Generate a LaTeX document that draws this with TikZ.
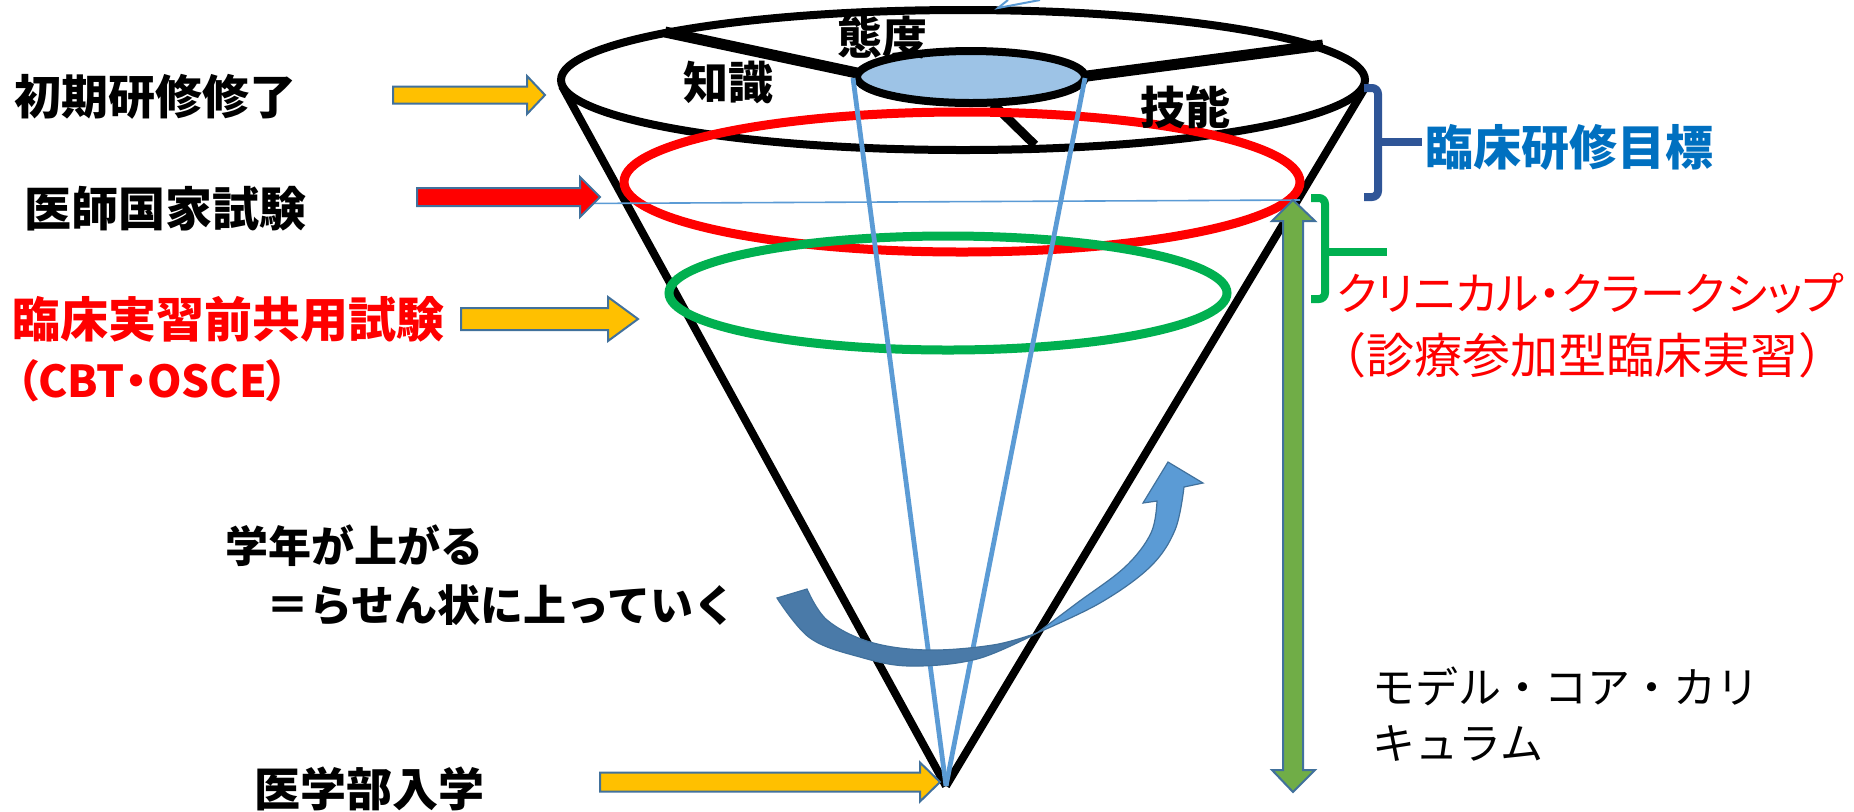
\documentclass[tikz,border=0pt]{standalone}
\usepackage{fontspec}
\setmainfont{Noto Sans CJK JP}
\newfontfamily\jpp[RawFeature=+palt]{Noto Sans CJK JP}
\definecolor{arrowedge}{HTML}{41719C}
\definecolor{ayellow}{HTML}{FFC000}
\definecolor{agreen}{HTML}{70AD47}
\definecolor{rgreen}{HTML}{00B050}
\definecolor{lblue}{HTML}{5B9BD5}
\definecolor{dblue}{HTML}{2F5597}
\definecolor{tblue}{HTML}{0070C0}
\definecolor{iblue}{HTML}{9DC3E6}
\definecolor{cdark}{HTML}{4A7AA8}
\newcommand\barrow[7]{%
  \filldraw[fill=#7, draw=arrowedge, line width=1pt, line join=miter]
    (#1,#4-#5) -- (#2,#4-#5) -- (#2,#4-#6) -- (#3,#4) -- (#2,#4+#6) -- (#2,#4+#5) -- (#1,#4+#5) -- cycle;}
\begin{document}
\begin{tikzpicture}[x=0.5pt,y=-0.5pt,
  lbl/.style={anchor=west, inner sep=0pt, font=\bfseries\fontsize{23.5pt}{28pt}\selectfont},
  redlbl/.style={lbl, text=red},
  conel/.style={line width=4pt, black},
  blueray/.style={line width=2.4pt, lblue},
  bracket/.style={line width=4pt, rounded corners=3pt}]
\useasboundingbox[fill=white] (0,0) rectangle (1854,811);

% cone sides
\coordinate (apex) at (946,786);
\draw[conel] (562,86) -- (apex);
\draw[conel] (1366,86) -- (apex);

% top ellipse and dividers
\draw[line width=4pt] (963,80) ellipse [x radius=402, y radius=70];
\draw[line width=5.5pt] (665,32) -- (857,73);
\draw[line width=5.5pt] (1087,76) -- (1323,45);
\draw[line width=4.5pt] (993,104) -- (1035,145);
\filldraw[fill=iblue, draw=black, line width=4pt] (971,77) ellipse [x radius=114, y radius=26];

% coloured rings
\draw[red, line width=4.5pt] (962,182) ellipse [x radius=338, y radius=70];
\draw[rgreen, line width=4.5pt] (948,293) ellipse [x radius=279, y radius=57];

% blue rays
\draw[blueray] (853,78) -- (apex);
\draw[blueray] (1085,78) -- (apex);

% thin horizontal line
\draw[lblue, line width=0.8pt] (470,204) -- (1300,200);

% small mark at top
\draw[lblue, line width=1pt] (1008,0) -- (998,8) -- (1040,0);

% block arrows
\barrow{393}{527}{545}{95}{8.5}{19}{ayellow}
\barrow{417}{580}{600}{197}{9}{20}{red}
\barrow{461}{608}{638}{319}{11}{22}{ayellow}
\barrow{600}{920}{940}{782}{9.5}{19.5}{ayellow}

% green double arrow
\filldraw[fill=agreen, draw=arrowedge, line width=1pt, line join=miter]
  (1293,200) -- (1315,221) -- (1303,221) -- (1303,770) -- (1315,770) -- (1293,792)
  -- (1272,770) -- (1283,770) -- (1283,221) -- (1272,221) -- cycle;

% brackets
\draw[dblue, bracket] (1364,88) -- (1378,88) -- (1378,197) -- (1364,197);
\draw[dblue, line width=4pt] (1378,142) -- (1422,142);
\draw[rgreen, bracket] (1311,198) -- (1325,198) -- (1325,299) -- (1311,299);
\draw[rgreen, line width=4pt] (1325,252) -- (1387,252);

% curved arrow
\filldraw[fill=cdark, draw=arrowedge, line width=0.6pt]
  plot[smooth, tension=0.6] coordinates {(777,598) (810,638) (860,657) (910,666) (977,659) (1037,633)}
  -- plot[smooth, tension=0.6] coordinates {(1037,633) (993,645) (927,650) (870,642) (827,620) (807,589)}
  -- cycle;
\filldraw[fill=lblue, draw=arrowedge, line width=0.6pt]
  plot[smooth, tension=0.6] coordinates {(1037,633) (1100,603) (1150,567) (1175,530) (1184,487)}
  -- (1203,483) -- (1168,462) -- (1143,503) --
  plot[smooth, tension=0.6] coordinates {(1157,501) (1151,533) (1125,567) (1077,603) (1037,633)}
  -- cycle;

% texts
\node[lbl] (t1) at (14,97) {初期研修修了};
\node[lbl] (t2) at (24,209) {医師国家試験};
\node[redlbl, font=\bfseries\fontsize{24pt}{28pt}\selectfont] (t3) at (12,319) {臨床実習前共用試験};
\node[redlbl, font=\jpp\bfseries\fontsize{22pt}{28pt}\selectfont] (t4) at (16,381) {（CBT・OSCE）};
\node[lbl, font=\bfseries\fontsize{21.5pt}{26pt}\selectfont] (t5) at (225,546) {学年が上がる};
\node[lbl, font=\bfseries\fontsize{21.5pt}{26pt}\selectfont] (t6) at (266,605) {＝らせん状に上っていく};
\node[lbl, font=\bfseries\fontsize{23pt}{28pt}\selectfont] (t7) at (254,789) {医学部入学};
\node[lbl, text=tblue, font=\bfseries\fontsize{24pt}{28pt}\selectfont] (t8) at (1425,147) {臨床研修目標};
\node[redlbl, font=\jpp\fontsize{22.5pt}{28pt}\selectfont] (t9) at (1336,293) {クリニカル・クラークシップ};
\node[redlbl, font=\fontsize{24pt}{28pt}\selectfont] (t10) at (1318,355) {（診療参加型臨床実習）};
\node[lbl, font=\fontsize{21.5pt}{26pt}\selectfont] (t11) at (1372,686) {モデル・コア・カリ};
\node[lbl, font=\fontsize{21.5pt}{26pt}\selectfont] (t12) at (1372,743) {キュラム};
\node[inner sep=0pt, font=\bfseries\fontsize{22.5pt}{26pt}\selectfont] (k1) at (728,82) {知識};
\node[inner sep=0pt, font=\bfseries\fontsize{22.5pt}{26pt}\selectfont] (k2) at (882,37) {態度};
\node[inner sep=0pt, font=\bfseries\fontsize{22.5pt}{26pt}\selectfont] (k3) at (1185,107) {技能};
\end{tikzpicture}
\end{document}
